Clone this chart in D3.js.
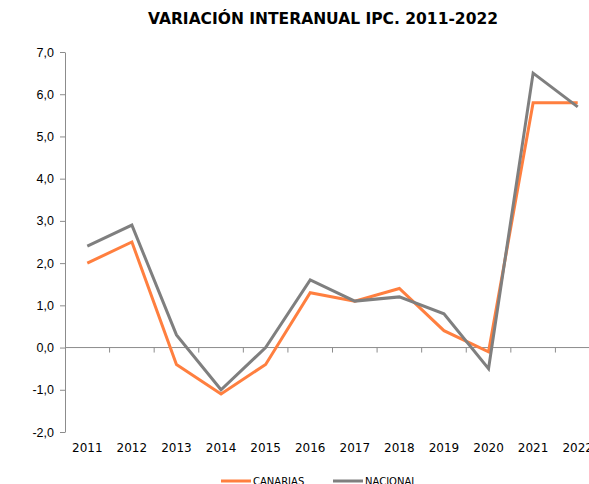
<!DOCTYPE html>
<html>
<head>
<meta charset="utf-8">
<script src="https://cdn.jsdelivr.net/npm/d3@7"></script>
<style>
  body { margin: 0; background: #fff; }
  svg { display: block; font-family: "DejaVu Sans", Verdana, sans-serif; }
</style>
</head>
<body>
<div id="chart"></div>
<script>
// datos
var years = ["2011","2012","2013","2014","2015","2016","2017","2018","2019","2020","2021","2022"];
var canarias = [2.0, 2.5, -0.4, -1.1, -0.4, 1.3, 1.1, 1.4, 0.4, -0.1, 5.8, 5.8];
var nacional = [2.4, 2.9, 0.3, -1.0, 0.0, 1.6, 1.1, 1.2, 0.8, -0.5, 6.5, 5.7];
var yTicks = [-2, -1, 0, 1, 2, 3, 4, 5, 6, 7];
var seriesNames = ["CANARIAS", "NACIONAL"];
var seriesColors = ["#ff7f3f", "#7f7f7f"];

var width = 589, height = 484;
var svg = d3.select("#chart").append("svg")
    .attr("width", width)
    .attr("height", height);

// titulo
svg.append("text")
    .attr("x", 323)
    .attr("y", 24)
    .attr("text-anchor", "middle")
    .style("font-size", "15.5px")
    .style("font-weight", "bold")
    .text("VARIACIÓN INTERANUAL IPC. 2011-2022");

var x = d3.scaleBand().domain(years).range([65, 600]);
var y = d3.scaleLinear().domain([-2, 7]).range([432, 52]);

// eje y
var yAxis = svg.append("g")
    .attr("transform", "translate(65,0)")
    .call(d3.axisLeft(y).tickValues(yTicks).tickSize(5).tickSizeOuter(0)
        .tickFormat(function(d){ return d3.format(".1f")(d).replace(".", ",").replace("−", "-"); }));
yAxis.select(".domain").attr("stroke", "#8c8c8c");
yAxis.selectAll(".tick line").attr("stroke", "#8c8c8c");
yAxis.selectAll("text")
    .attr("x", -11)
    .style("font-size", "12.5px")
    .style("fill", "#000");

// eje x sobre el cero
var xAxis = svg.append("g")
    .attr("transform", "translate(0," + y(0) + ")");
xAxis.append("line")
    .attr("x1", 65).attr("x2", width)
    .attr("stroke", "#8c8c8c");
xAxis.selectAll(".tk")
    .data(years.slice(1))
    .enter().append("line")
    .attr("x1", function(d){ return x(d); })
    .attr("x2", function(d){ return x(d); })
    .attr("y1", 0).attr("y2", 5)
    .attr("stroke", "#8c8c8c");

svg.append("g").selectAll("text")
    .data(years)
    .enter().append("text")
    .attr("x", function(d){ return x(d) + x.bandwidth()/2; })
    .attr("y", 452)
    .attr("text-anchor", "middle")
    .style("font-size", "12px")
    .text(function(d){ return d; });

// lineas
var line = d3.line()
    .x(function(d, i){ return x(years[i]) + x.bandwidth()/2; })
    .y(function(d){ return y(d); });

[canarias, nacional].forEach(function(s, i){
    svg.append("path")
        .datum(s)
        .attr("d", line)
        .attr("fill", "none")
        .attr("stroke", seriesColors[i])
        .attr("stroke-width", 3)
        .attr("stroke-linejoin", "miter");
});

// leyenda
var legend = svg.append("g").selectAll("g")
    .data(seriesNames)
    .enter().append("g")
    .attr("transform", function(d, i){ return "translate(" + (221 + i*112) + ",481)"; });
legend.append("line")
    .attr("x1", 0).attr("x2", 30)
    .attr("stroke", function(d, i){ return seriesColors[i]; })
    .attr("stroke-width", 3);
legend.append("text")
    .attr("x", 32)
    .attr("y", 4)
    .style("font-size", "10px")
    .text(function(d){ return d; });
</script>
</body>
</html>
